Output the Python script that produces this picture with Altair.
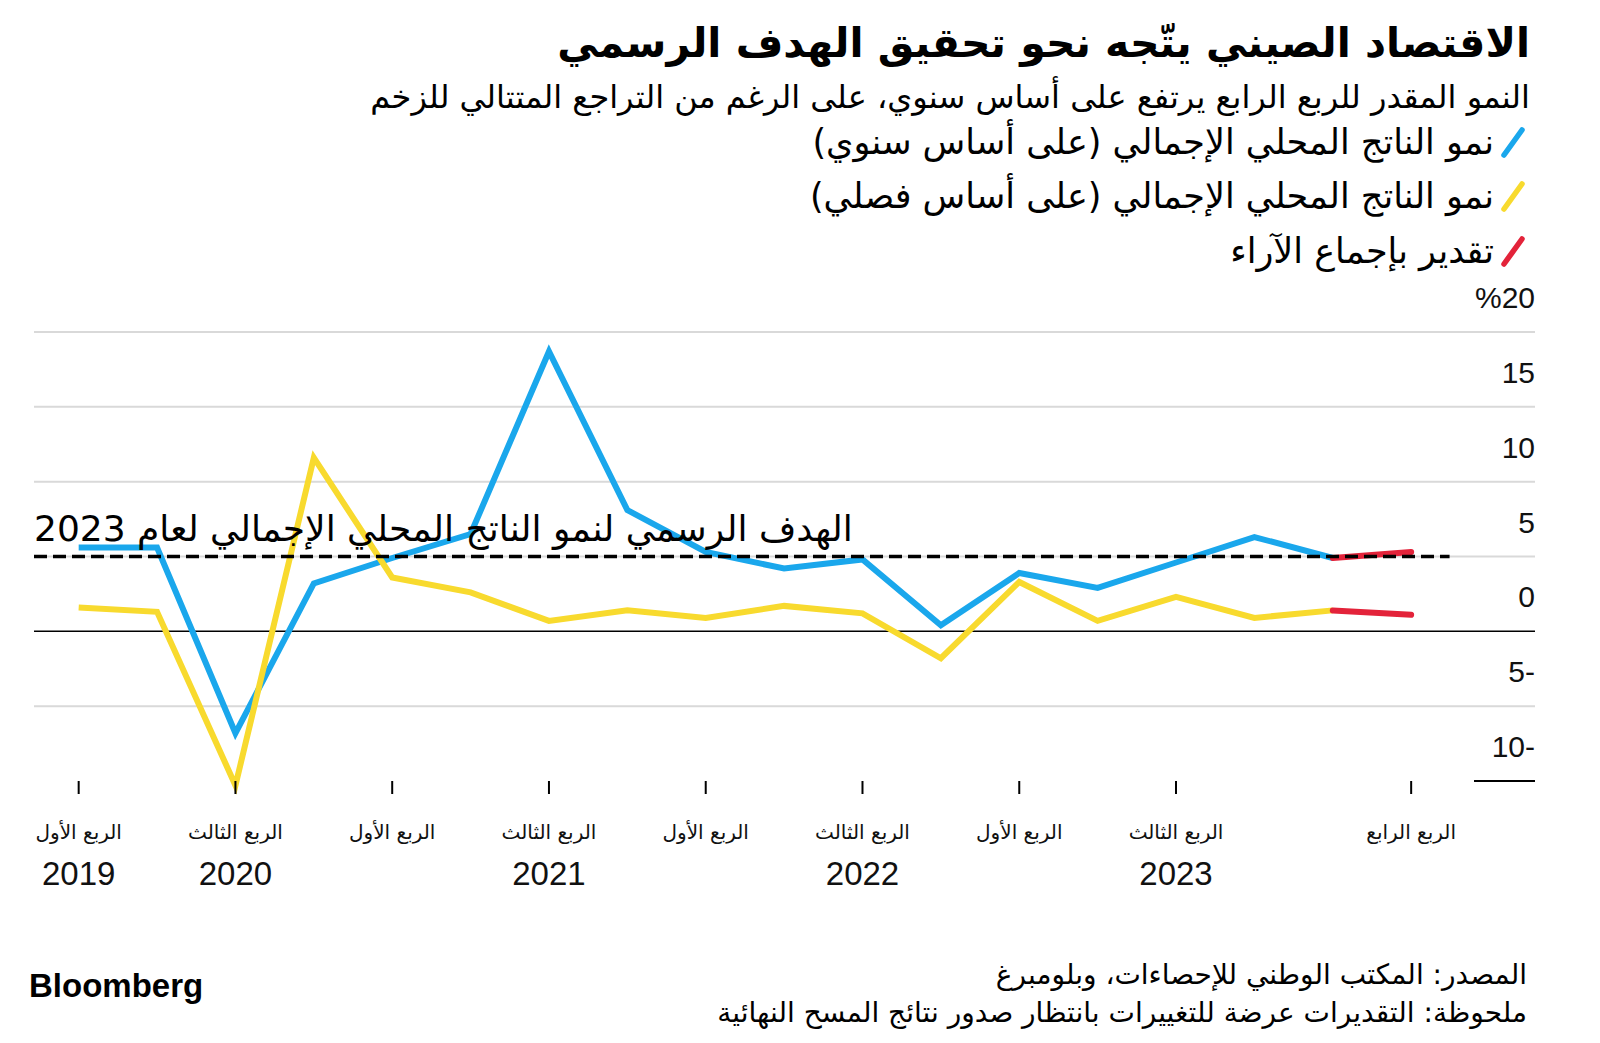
import altair as alt
import pandas as pd

# ---------------- data ----------------
quarter_idx = list(range(17))
yoy = [5.6, 5.6, -6.8, 3.2, 4.9, 6.5, 18.7, 8.1, 5.3, 4.2, 4.8, 0.4, 3.9, 2.9, 4.6, 6.3, 4.9]
qoq = [1.6, 1.3, -10.3, 11.6, 3.6, 2.6, 0.7, 1.4, 0.9, 1.7, 1.2, -1.8, 3.3, 0.7, 2.3, 0.9, 1.4]
est_idx = [16, 17]
est_yoy = [4.9, 5.3]
est_qoq = [1.4, 1.1]
target_value = 5
target_span = [-0.57, 17.49]

tick_idx = [0, 2, 4, 6, 8, 10, 12, 14, 17]
tick_quarter = ["الربع الأول", "الربع الثالث", "الربع الأول", "الربع الثالث", "الربع الأول",
                "الربع الثالث", "الربع الأول", "الربع الثالث", "الربع الرابع"]
tick_year = ["2019", "2020", "", "2021", "", "2022", "", "2023", ""]
y_ticks = [20, 15, 10, 5, 0, -5, -10]
y_labels = ["%20", "15", "10", "5", "0", "5-", "10-"]
grid_vals = [20, 15, 10, 5, -5]

RLM = "\u200f"
title = "الاقتصاد الصيني يتّجه نحو تحقيق الهدف الرسمي"
subtitle = "النمو المقدر للربع الرابع يرتفع على أساس سنوي، على الرغم من التراجع المتتالي للزخم"
legend_labels = ["نمو الناتج المحلي الإجمالي (على أساس سنوي)" + RLM,
                 "نمو الناتج المحلي الإجمالي (على أساس فصلي)" + RLM,
                 "تقدير بإجماع الآراء"]
annotation = "الهدف الرسمي لنمو الناتج المحلي الإجمالي لعام 2023"
source = "المصدر: المكتب الوطني للإحصاءات، وبلومبرغ"
note = "ملحوظة: التقديرات عرضة للتغييرات بانتظار صدور نتائج المسح النهائية"
brand = "Bloomberg"

BLUE = "#1AA7EC"
YELLOW = "#F8DA2E"
RED = "#E3233A"
AR = "DejaVu Sans"
NUM = "Liberation Sans"

W, H = 1501, 449
xs = alt.Scale(domain=[-0.57, 18.58], nice=False, zero=False)
ys = alt.Scale(domain=[-10, 20], nice=False, zero=False)

series_df = pd.DataFrame({
    "i": quarter_idx * 2,
    "v": yoy + qoq,
    "s": ["yoy"] * len(yoy) + ["qoq"] * len(qoq),
})
est_df = pd.DataFrame({
    "i": est_idx * 2,
    "v": est_yoy + est_qoq,
    "s": ["yoy_e"] * 2 + ["qoq_e"] * 2,
})

layers = []

# gridlines
layers.append(alt.Chart(pd.DataFrame({"v": grid_vals})).mark_rule(color="#d9d9d9", strokeWidth=2).encode(
    y=alt.Y("v:Q", scale=ys, axis=None), x=alt.value(0), x2=alt.value(W)))
# zero line
layers.append(alt.Chart(pd.DataFrame({"v": [0]})).mark_rule(color="#000000", strokeWidth=1.5).encode(
    y=alt.Y("v:Q", scale=ys, axis=None), x=alt.value(0), x2=alt.value(W)))
# short -10 line
layers.append(alt.Chart(pd.DataFrame({"v": [-10]})).mark_rule(color="#000000", strokeWidth=2).encode(
    y=alt.Y("v:Q", scale=ys, axis=None), x=alt.value(1440), x2=alt.value(W)))

# lines
layers.append(alt.Chart(series_df[series_df.s == "yoy"]).mark_line(color=BLUE, strokeWidth=6).encode(
    x=alt.X("i:Q", scale=xs, axis=None), y=alt.Y("v:Q", scale=ys, axis=None)))
layers.append(alt.Chart(series_df[series_df.s == "qoq"]).mark_line(color=YELLOW, strokeWidth=6).encode(
    x=alt.X("i:Q", scale=xs, axis=None), y=alt.Y("v:Q", scale=ys, axis=None)))
layers.append(alt.Chart(est_df).mark_line(color=RED, strokeWidth=6, strokeCap="round").encode(
    x=alt.X("i:Q", scale=xs, axis=None), y=alt.Y("v:Q", scale=ys, axis=None), detail="s:N"))

# target dashed line
layers.append(alt.Chart(pd.DataFrame({"a": [target_span[0]], "b": [target_span[1]], "v": [target_value]}))
              .mark_rule(color="#000000", strokeWidth=3.5, strokeDash=[13, 6]).encode(
    x=alt.X("a:Q", scale=xs, axis=None), x2="b:Q", y=alt.Y("v:Q", scale=ys, axis=None)))

# annotation
layers.append(alt.Chart(pd.DataFrame({"v": [target_value], "t": [annotation]}))
              .mark_text(font=AR, fontSize=36, align="left", baseline="middle", dy=-27, color="#000000").encode(
    x=alt.value(0), y=alt.Y("v:Q", scale=ys, axis=None), text="t:N"))

# y labels
layers.append(alt.Chart(pd.DataFrame({"v": y_ticks, "t": y_labels}))
              .mark_text(font=NUM, fontSize=30, align="right", baseline="middle", dy=-33, color="#111111").encode(
    x=alt.value(W), y=alt.Y("v:Q", scale=ys, axis=None), text="t:N"))

# x ticks and labels
tick_df = pd.DataFrame({"i": tick_idx, "q": tick_quarter, "y": tick_year})
layers.append(alt.Chart(tick_df).mark_rule(color="#000000", strokeWidth=2).encode(
    x=alt.X("i:Q", scale=xs, axis=None), y=alt.value(449), y2=alt.value(462)))
layers.append(alt.Chart(tick_df).mark_text(font=AR, fontSize=20, align="center", baseline="middle", color="#111111").encode(
    x=alt.X("i:Q", scale=xs, axis=None), y=alt.value(501), text="q:N"))
layers.append(alt.Chart(tick_df).mark_text(font=NUM, fontSize=33, align="center", baseline="middle", color="#111111").encode(
    x=alt.X("i:Q", scale=xs, axis=None), y=alt.value(543), text="y:N"))


def label(text, x, y, size, font=AR, weight="normal", align="right"):
    return alt.Chart(pd.DataFrame({"t": [text]})).mark_text(
        font=font, fontSize=size, fontWeight=weight, align=align, baseline="middle", color="#000000"
    ).encode(x=alt.value(x), y=alt.value(y), text="t:N")


layers.append(label(title, 1496, -287, 41, weight="bold"))
layers.append(label(subtitle, 1496, -234, 32))

legend_colors = [BLUE, YELLOW, RED]
legend_y = [-189, -135, -80]
for lab, col, yy in zip(legend_labels, legend_colors, legend_y):
    layers.append(label(lab, 1460, yy, 35))
    layers.append(alt.Chart(pd.DataFrame({"t": [lab]})).mark_rule(color=col, strokeWidth=5.5, strokeCap="round").encode(
        x=alt.value(1470), x2=alt.value(1488), y=alt.value(yy + 12), y2=alt.value(yy - 13)))

layers.append(label(source, 1493, 644, 28))
layers.append(label(note, 1493, 682, 28))
layers.append(label(brand, -5, 655, 33, font=NUM, weight="bold", align="left"))

chart = alt.layer(*layers).properties(
    width=W, height=H,
    autosize=alt.AutoSizeParams(type="none"),
    padding={"left": 26, "top": 324, "right": 40, "bottom": 255},
).configure_view(stroke=None)

chart.save("out.html", embed_options={"renderer": "svg", "actions": False})
